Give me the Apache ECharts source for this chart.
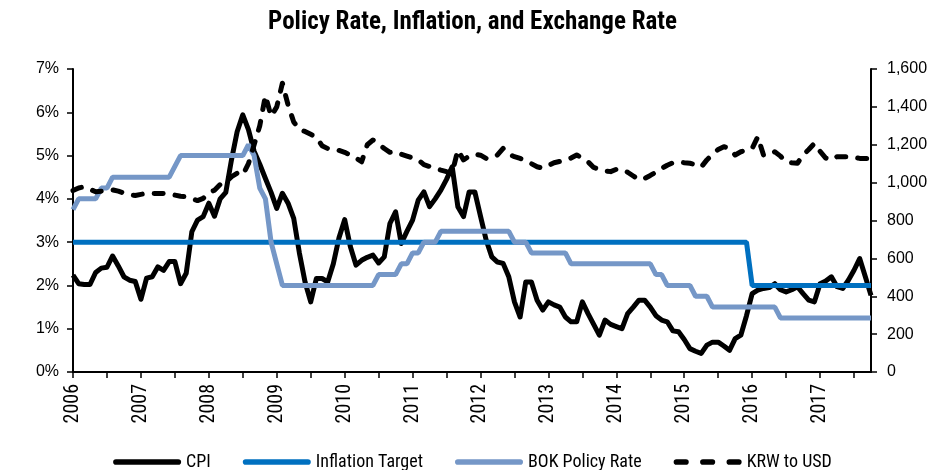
<!DOCTYPE html>
<html>
<head>
<meta charset="utf-8">
<title>Policy Rate, Inflation, and Exchange Rate</title>
<script src="https://cdn.jsdelivr.net/npm/echarts@6/dist/echarts.min.js"></script>
<style>
  html, body { margin: 0; padding: 0; background: #fff; }
  #chart { width: 945px; height: 470px; }
</style>
</head>
<body>
<div id="chart"></div>
<script>
// monthly data, Jan 2006 - Oct 2017
const years = [2006, 2007, 2008, 2009, 2010, 2011, 2012, 2013, 2014, 2015, 2016, 2017]

// CPI, % y/y
const cpi = [
  2.24, 2.04, 2.02, 2.02, 2.30, 2.40, 2.42, 2.68, 2.45, 2.20, 2.12, 2.09, // 2006
  1.68, 2.17, 2.20, 2.43, 2.35, 2.55, 2.55, 2.04, 2.28, 3.24, 3.51, 3.59, // 2007
  3.90, 3.60, 4.00, 4.15, 4.90, 5.55, 5.94, 5.60, 5.10, 4.80, 4.47, 4.15, // 2008
  3.78, 4.13, 3.90, 3.55, 2.75, 2.08, 1.62, 2.16, 2.16, 2.08, 2.50, 3.10, // 2009
  3.52, 2.90, 2.47, 2.58, 2.65, 2.70, 2.52, 2.66, 3.43, 3.70, 2.97, 3.25, // 2010
  3.51, 3.97, 4.16, 3.82, 4.00, 4.20, 4.45, 4.74, 3.82, 3.59, 4.16, 4.16, // 2011
  3.60, 3.05, 2.66, 2.54, 2.51, 2.20, 1.62, 1.27, 2.08, 2.08, 1.66, 1.43, // 2012
  1.62, 1.55, 1.50, 1.27, 1.16, 1.16, 1.62, 1.35, 1.10, 0.85, 1.20, 1.10, // 2013
  1.05, 1.00, 1.35, 1.50, 1.66, 1.66, 1.50, 1.30, 1.20, 1.16, 0.95, 0.93, // 2014
  0.75, 0.54, 0.48, 0.43, 0.62, 0.69, 0.69, 0.60, 0.50, 0.77, 0.85, 1.30, // 2015
  1.81, 1.89, 1.93, 1.95, 2.04, 1.90, 1.85, 1.90, 1.97, 1.81, 1.66, 1.62, // 2016
  2.04, 2.10, 2.20, 1.97, 1.93, 2.12, 2.35, 2.62, 2.20, 1.77              // 2017
]

// inflation target, %
const target = [
  3, 3, 3, 3, 3, 3, 3, 3, 3, 3, 3, 3,
  3, 3, 3, 3, 3, 3, 3, 3, 3, 3, 3, 3,
  3, 3, 3, 3, 3, 3, 3, 3, 3, 3, 3, 3,
  3, 3, 3, 3, 3, 3, 3, 3, 3, 3, 3, 3,
  3, 3, 3, 3, 3, 3, 3, 3, 3, 3, 3, 3,
  3, 3, 3, 3, 3, 3, 3, 3, 3, 3, 3, 3,
  3, 3, 3, 3, 3, 3, 3, 3, 3, 3, 3, 3,
  3, 3, 3, 3, 3, 3, 3, 3, 3, 3, 3, 3,
  3, 3, 3, 3, 3, 3, 3, 3, 3, 3, 3, 3,
  3, 3, 3, 3, 3, 3, 3, 3, 3, 3, 3, 3,
  2, 2, 2, 2, 2, 2, 2, 2, 2, 2, 2, 2,
  2, 2, 2, 2, 2, 2, 2, 2, 2, 2
]

// BOK base rate, %
const policyRate = [
  3.75, 4.00, 4.00, 4.00, 4.00, 4.25, 4.25, 4.50, 4.50, 4.50, 4.50, 4.50,
  4.50, 4.50, 4.50, 4.50, 4.50, 4.50, 4.75, 5.00, 5.00, 5.00, 5.00, 5.00,
  5.00, 5.00, 5.00, 5.00, 5.00, 5.00, 5.00, 5.25, 5.00, 4.25, 4.00, 3.00,
  2.50, 2.00, 2.00, 2.00, 2.00, 2.00, 2.00, 2.00, 2.00, 2.00, 2.00, 2.00,
  2.00, 2.00, 2.00, 2.00, 2.00, 2.00, 2.25, 2.25, 2.25, 2.25, 2.50, 2.50,
  2.75, 2.75, 3.00, 3.00, 3.00, 3.25, 3.25, 3.25, 3.25, 3.25, 3.25, 3.25,
  3.25, 3.25, 3.25, 3.25, 3.25, 3.25, 3.00, 3.00, 3.00, 2.75, 2.75, 2.75,
  2.75, 2.75, 2.75, 2.75, 2.50, 2.50, 2.50, 2.50, 2.50, 2.50, 2.50, 2.50,
  2.50, 2.50, 2.50, 2.50, 2.50, 2.50, 2.50, 2.25, 2.25, 2.00, 2.00, 2.00,
  2.00, 2.00, 1.75, 1.75, 1.75, 1.50, 1.50, 1.50, 1.50, 1.50, 1.50, 1.50,
  1.50, 1.50, 1.50, 1.50, 1.50, 1.25, 1.25, 1.25, 1.25, 1.25, 1.25, 1.25,
  1.25, 1.25, 1.25, 1.25, 1.25, 1.25, 1.25, 1.25, 1.25, 1.25
]

// won per dollar (right axis)
const krwUsd = [
  958, 972, 978, 965, 952, 955, 960, 962, 955, 945, 935, 932,
  938, 943, 943, 942, 943, 940, 934, 928, 925, 915, 905, 917,
  945, 960, 990, 1000, 1031, 1050, 1040, 1100, 1200, 1300, 1460, 1350,
  1400, 1525, 1410, 1320, 1280, 1270, 1255, 1240, 1195, 1180, 1172, 1170,
  1160, 1146, 1130, 1110, 1200, 1225, 1205, 1180, 1160, 1163, 1150, 1140,
  1130, 1120, 1095, 1085, 1075, 1066, 1058, 1052, 1172, 1120, 1140, 1150,
  1145, 1128, 1130, 1146, 1181, 1150, 1137, 1128, 1115, 1100, 1084, 1076,
  1090, 1105, 1112, 1118, 1130, 1146, 1128, 1110, 1080, 1070, 1062, 1058,
  1070, 1070, 1055, 1035, 1015, 1022, 1038, 1055, 1075, 1092, 1105, 1110,
  1105, 1102, 1095, 1082, 1120, 1150, 1175, 1190, 1180, 1146, 1163, 1172,
  1181, 1242, 1146, 1146, 1163, 1140, 1110, 1105, 1102, 1146, 1175, 1207,
  1165, 1130, 1119, 1137, 1137, 1137, 1133, 1128, 1128, 1128
]

const months = []
years.forEach(y => {
  for (let m = 1; m <= 12; m++) months.push(y + '-' + (m < 10 ? '0' + m : m))
})
months.length = cpi.length

const narrow = "'Liberation Sans Narrow', 'Roboto Condensed', 'Liberation Sans', sans-serif"
const plain = "'Liberation Sans', Arial, sans-serif"

// legend marks: a fat rounded bar, and three rounded dashes for the exchange rate
const solidIcon = 'path://M3,0H69A3,3,0,0,1,69,6H3A3,3,0,0,1,3,0Z'
const dashIcon = 'path://M3,0H13A3,3,0,0,1,13,6H3A3,3,0,0,1,3,0Z' +
  'M31,0H41A3,3,0,0,1,41,6H31A3,3,0,0,1,31,0Z' +
  'M59,0H69A3,3,0,0,1,69,6H59A3,3,0,0,1,59,0Z'

const chart = echarts.init(document.getElementById('chart'))
chart.setOption({
  animation: false,
  backgroundColor: '#fff',
  title: {
    text: 'Policy Rate, Inflation, and Exchange Rate',
    left: 'center',
    top: 5,
    textStyle: { fontFamily: narrow, fontSize: 25, fontWeight: 'bold', color: '#000' }
  },
  grid: { left: 73, right: 74, top: 69, bottom: 98 },
  legend: {
    top: 448,
    left: 'center',
    itemWidth: 68,
    itemHeight: 6,
    itemGap: 32,
    textStyle: { fontFamily: narrow, fontSize: 18, color: '#000' },
    data: [
      { name: 'CPI', icon: solidIcon },
      { name: 'Inflation Target', icon: solidIcon },
      { name: 'BOK Policy Rate', icon: solidIcon },
      { name: 'KRW to USD', icon: dashIcon }
    ]
  },
  xAxis: {
    type: 'category',
    boundaryGap: false,
    data: months,
    axisLine: { lineStyle: { color: '#000', width: 2 } },
    axisTick: {
      interval: i => i % 6 === 0,
      length: 6,
      lineStyle: { color: '#000', width: 1.5 }
    },
    axisLabel: {
      interval: i => i % 12 === 0,
      rotate: 90,
      margin: 12,
      formatter: v => v.slice(0, 4),
      fontFamily: narrow,
      fontSize: 20,
      color: '#000'
    },
    splitLine: { show: false }
  },
  yAxis: [
    {
      type: 'value',
      min: 0,
      max: 7,
      interval: 1,
      axisLine: { show: true, lineStyle: { color: '#000', width: 2 } },
      axisTick: { show: true, length: 6, lineStyle: { color: '#000', width: 1.5 } },
      axisLabel: { formatter: '{value}%', fontFamily: plain, fontSize: 16, color: '#000', margin: 14 },
      splitLine: { show: false }
    },
    {
      type: 'value',
      min: 0,
      max: 1600,
      interval: 200,
      axisLine: { show: true, lineStyle: { color: '#000', width: 2 } },
      axisTick: { show: true, length: 6, lineStyle: { color: '#000', width: 1.5 } },
      axisLabel: {
        formatter: v => v.toLocaleString('en-US'),
        fontFamily: plain, fontSize: 16, color: '#000', margin: 16
      },
      splitLine: { show: false }
    }
  ],
  series: [
    {
      name: 'CPI',
      type: 'line',
      data: cpi,
      symbol: 'none',
      lineStyle: { color: '#000', width: 5, join: 'round' },
      itemStyle: { color: '#000' }
    },
    {
      name: 'Inflation Target',
      type: 'line',
      data: target,
      symbol: 'none',
      lineStyle: { color: '#0070C0', width: 5 },
      itemStyle: { color: '#0070C0' }
    },
    {
      name: 'BOK Policy Rate',
      type: 'line',
      data: policyRate,
      symbol: 'none',
      lineStyle: { color: '#7597C7', width: 5 },
      itemStyle: { color: '#7597C7' }
    },
    {
      name: 'KRW to USD',
      type: 'line',
      yAxisIndex: 1,
      data: krwUsd,
      symbol: 'none',
      lineStyle: { color: '#000', width: 5, type: [9, 12], cap: 'round', join: 'round' },
      itemStyle: { color: '#000' }
    }
  ]
})
</script>
</body>
</html>
